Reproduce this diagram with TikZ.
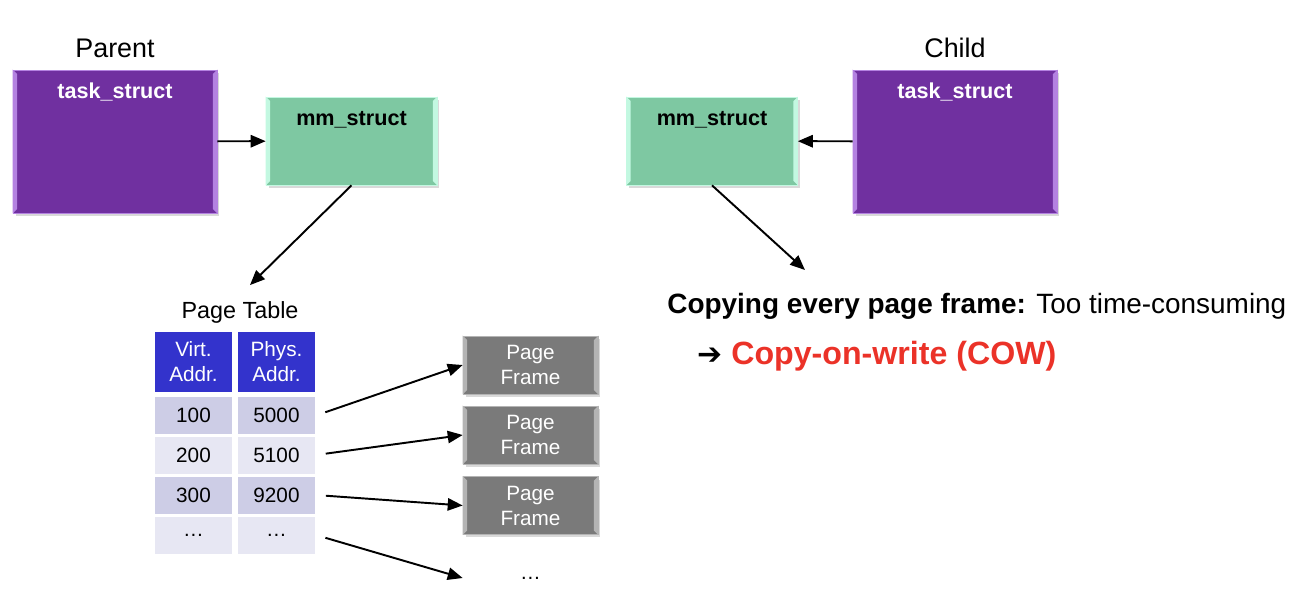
\documentclass[tikz,border=0pt]{standalone}
\usepackage{fontspec}
\setmainfont{Liberation Sans}
\newfontfamily\symfont{DejaVu Sans}
\usepackage{xcolor}
\usepackage{tikz}
\usetikzlibrary{arrows.meta, positioning, calc, shadows}

\definecolor{taskpurple}{RGB}{112,48,160}
\definecolor{taskedge}{RGB}{180,130,225}
\definecolor{mmgreen}{RGB}{126,200,162}
\definecolor{mmedge}{RGB}{195,248,225}
\definecolor{framegray}{RGB}{122,122,122}
\definecolor{frameedge}{RGB}{180,180,180}
\definecolor{hdrblue}{RGB}{51,51,204}
\definecolor{rowdark}{RGB}{205,205,230}
\definecolor{rowlight}{RGB}{231,231,243}
\definecolor{cowred}{RGB}{235,50,40}

\begin{document}
\begin{tikzpicture}[
    x=0.02cm, y=-0.02cm,
    structbox/.style={rectangle, drop shadow={opacity=0.3, shadow xshift=0.05cm, shadow yshift=-0.06cm}},
    taskbox/.style={structbox, fill=taskpurple, draw=taskedge, line width=0.4pt, minimum width=4.08cm, minimum height=2.86cm},
    mmbox/.style={structbox, fill=mmgreen, draw=mmedge, line width=0.4pt, minimum width=3.42cm, minimum height=1.76cm},
    framebox/.style={structbox, fill=framegray, draw=frameedge, line width=0.4pt, minimum width=2.7cm, minimum height=1.16cm},
    boxlabel/.style={anchor=north, inner sep=0pt, font=\fontsize{12.3}{14}\selectfont\bfseries},
    owner/.style={font=\fontsize{15.3}{18}\selectfont},
    hdr/.style={fill=hdrblue, text=white, minimum width=1.56cm, minimum height=1.2cm, align=center, inner sep=0pt,
      font=\fontsize{11.8}{14.2}\selectfont},
    cell/.style={minimum width=1.56cm, minimum height=0.74cm, inner sep=0pt, font=\fontsize{11.8}{14}\selectfont},
    msg/.style={-{Triangle[length=8.5pt, width=7pt]}, line width=1.1pt}
]
\useasboundingbox (0,0) rectangle (1308,598);

% parent side
\node[owner] (parent) at (115,48) {Parent};
\node[taskbox] (ptask) at (115,141.5) {};
\node[mmbox] (pmm) at (351.5,141) {};

% child side
\node[owner] (child) at (955,48) {Child};
\node[taskbox] (ctask) at (955,141.5) {};
\node[mmbox] (cmm) at (712,141) {};

% page frames
\foreach \y [count=\i] in {365,435,505.5}
  \node[framebox] (f\i) at (530.5,\y) {};

% bevelled side strips
\foreach \n/\c in {ptask/taskedge, ctask/taskedge, pmm/mmedge, cmm/mmedge, f1/frameedge, f2/frameedge, f3/frameedge} {
  \fill[\c] (\n.north west) -- ++(0.09cm,-0.09cm) -- ([shift={(0.09cm,0.09cm)}]\n.south west) -- (\n.south west) -- cycle;
  \fill[\c] (\n.north east) -- ++(-0.09cm,-0.09cm) -- ([shift={(-0.09cm,0.09cm)}]\n.south east) -- (\n.south east) -- cycle;
}

\foreach \n in {ptask, ctask}
  \node[boxlabel, text=white] at ([yshift=-0.26cm]\n.north) {task\_struct};
\foreach \n in {pmm, cmm}
  \node[boxlabel] at ([yshift=-0.28cm]\n.north) {mm\_struct};
\foreach \i in {1,2,3}
  \node[align=center, text=white, font=\fontsize{11.8}{14.2}\selectfont] at (f\i) {Page\\Frame};

\draw[msg] (ptask) -- (pmm);
\draw[msg] (ctask) -- (cmm);

% page table
\node[font=\fontsize{13.3}{16}\selectfont] (ptlabel) at (240,312) {Page Table};
\draw[msg, shorten >=0.28cm] (pmm.south) -- (ptlabel.north);

\node[hdr] (hv) at (193.5,362) {Virt.\\Addr.};
\node[hdr] (hp) at (276.5,362) {Phys.\\Addr.};
\foreach \v/\p/\y/\c [count=\i] in {100/5000/415.5/rowdark, 200/5100/455/rowlight, 300/9200/495/rowdark, \dots/\dots/535/rowlight} {
  \node[cell, fill=\c] (v\i) at (193.5,\y) {\v};
  \node[cell, fill=\c] (p\i) at (276.5,\y) {\p};
}

\node[minimum width=2.7cm, font=\fontsize{11.8}{14}\selectfont] (fdots) at (530.5,578) {\dots};

\foreach \i in {1,2,3}
  \draw[msg, shorten <=0.2cm] (p\i.east) -- (f\i.west);
\draw[msg, shorten <=0.2cm] (p4.east) -- (fdots.west);

% copy note
\node[anchor=west, inner sep=0pt, font=\fontsize{15.9}{18}\selectfont] (copytxt) at (667,306)
  {\textbf{Copying every page frame:} Too time-consuming};
\node[anchor=west, inner sep=0pt, font=\fontsize{18.3}{21}\selectfont] (cowtxt) at (697,356)
  {{\symfont\fontsize{17}{18}\selectfont ➔} \textcolor{cowred}{\textbf{Copy-on-write (COW)}}};
\coordinate (cmmend) at (805,270);
\draw[msg] (cmm.south) -- (cmmend);

\end{tikzpicture}
\end{document}
